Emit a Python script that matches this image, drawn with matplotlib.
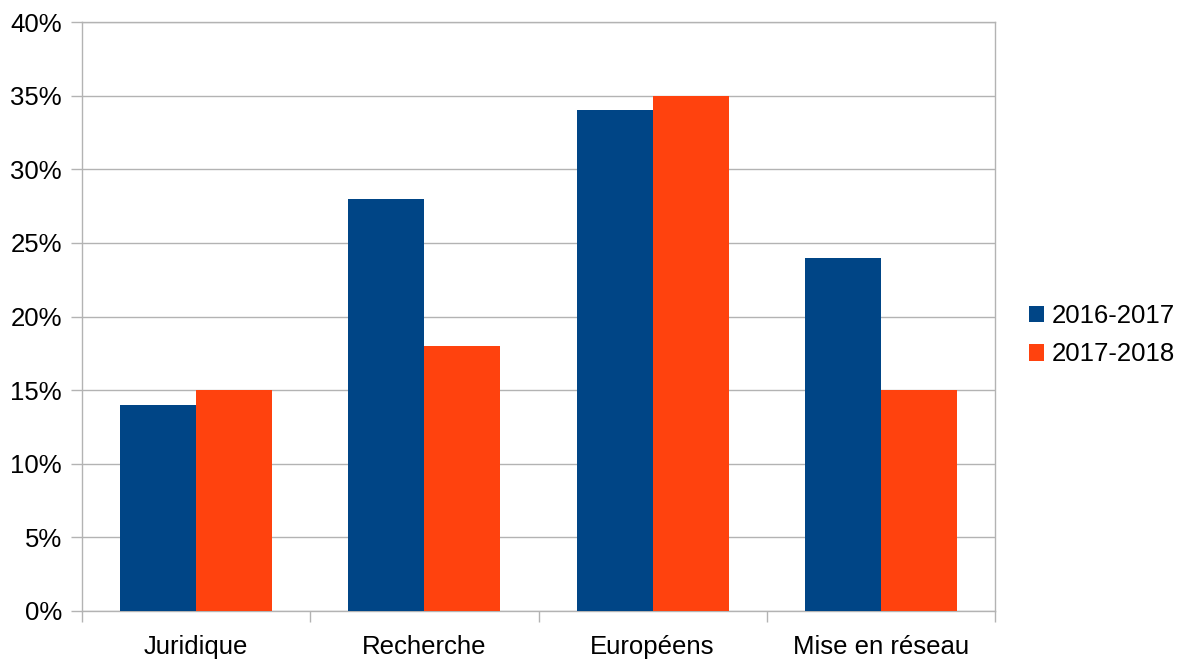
import matplotlib
matplotlib.use("Agg")
import matplotlib.pyplot as plt
import numpy as np
from matplotlib.ticker import FuncFormatter, FixedLocator

categories = ["Juridique", "Recherche", "Européens", "Mise en réseau"]
series_names = ["2016-2017", "2017-2018"]
values_2016 = [14, 28, 34, 24]
values_2017 = [15, 18, 35, 15]
yticks = [0, 5, 10, 15, 20, 25, 30, 35, 40]
colors = ["#004586", "#ff420e"]

plt.rcParams['font.family'] = ['Liberation Sans', 'DejaVu Sans']

fig = plt.figure(figsize=(11.82, 6.59), dpi=100)
ax = fig.add_axes([82/1182, 48/659, (995-82)/1182, (611-22)/659])

x = np.arange(len(categories))
w = 0.3335
ax.bar(x - w/2, values_2016, width=w, color=colors[0], label=series_names[0], zorder=3)
ax.bar(x + w/2, values_2017, width=w, color=colors[1], label=series_names[1], zorder=3)

ax.set_xlim(-0.5, len(categories) - 0.5)
ax.set_ylim(0, 40)
ax.set_yticks(yticks)
ax.yaxis.set_major_formatter(FuncFormatter(lambda v, p: f"{int(v)}%"))
ax.yaxis.grid(True, color="#b3b3b3", linewidth=1, zorder=0)
ax.set_xticks(x)
ax.set_xticklabels(categories)
ax.xaxis.set_minor_locator(FixedLocator(np.arange(-0.5, len(categories), 1.0)))
ax.tick_params(axis='x', which='major', length=0, pad=17, labelsize=18.5)
ax.tick_params(axis='x', which='minor', length=8, width=1, color="#b3b3b3")
ax.tick_params(axis='y', length=8, width=1, color="#b3b3b3", pad=6.5, labelsize=18.5)
for s in ax.spines.values():
    s.set_color("#b3b3b3")
    s.set_linewidth(1)

leg = ax.legend(loc='center left', bbox_to_anchor=(1.012, 0.468), frameon=False,
                fontsize=18.5, handlelength=0.6, handleheight=0.6, handletextpad=0.3,
                labelspacing=0.55)

fig.savefig("out.png", dpi=100)
